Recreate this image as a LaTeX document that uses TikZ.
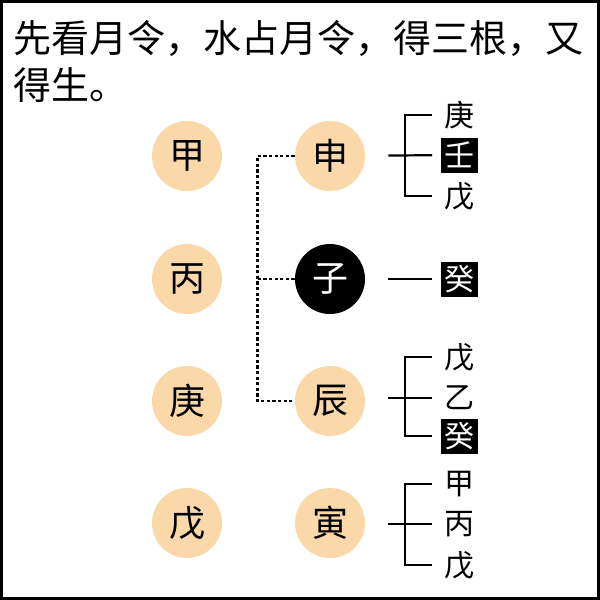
\documentclass[tikz,border=0pt]{standalone}
\usepackage{fontspec}
\setmainfont{Noto Sans CJK SC}
\usepackage{tikz}
\definecolor{peach}{RGB}{250,216,170}

\begin{document}
\begin{tikzpicture}[x=0.5pt,y=-0.5pt,
  main_node/.style={circle,fill=peach,minimum size=35pt,inner sep=0pt,font=\fontsize{18pt}{18pt}\selectfont},
  stem_node/.style={minimum width=18.5pt,minimum height=17.5pt,inner sep=0pt,font=\fontsize{15pt}{15pt}\selectfont},
  hidden_node/.style={stem_node,fill=black,text=white},
  dash_line/.style={line width=1.2pt,dash pattern=on 1.6pt off 1.2pt},
  fork_line/.style={line width=1.1pt,shorten <=4pt,shorten >=4pt}]

    \useasboundingbox (0,0) rectangle (600,600);
    \draw[line width=1.5pt] (1.5,1.5) rectangle (598.5,598.5);

    \node[anchor=north west,align=left,inner sep=0pt,font=\fontsize{19pt}{23.5pt}\selectfont] (0) at (13,20) {先看月令，水占月令，得三根，又\\得生。};

	\node[main_node] (1) at (187,156) {甲};
    \node[main_node] (2) at (187,279) {丙};
    \node[main_node] (3) at (187,401) {庚};
    \node[main_node] (4) at (187,523) {戊};

    \node[main_node] (5) at (330,156) {申};
    \node[main_node, fill=black, text=white] (6) at (330,279) {子};
    \node[main_node] (7) at (330,401) {辰};
    \node[main_node] (8) at (330,523) {寅};

    \node[stem_node] (9) at (459,115) {庚};
    \node[hidden_node] (10) at (459,155) {壬};
    \node[stem_node] (11) at (459,196) {戊};

    \node[hidden_node] (12) at (459,279) {癸};

    \node[stem_node] (13) at (459,357) {戊};
    \node[stem_node] (14) at (459,398) {乙};
    \node[hidden_node] (15) at (459,436) {癸};

    \node[stem_node] (16) at (459,484) {甲};
    \node[stem_node] (17) at (459,524) {丙};
    \node[stem_node] (18) at (459,565) {戊};

    \coordinate (a) at (405,155);
    \coordinate (b) at (405,398);
    \coordinate (c) at (405,524);

    % month branch and the other branches
    \draw[dash_line] (5.west) -- ++(-37,0) |- (7.west);
    \draw[dash_line] (6.west) -- ++(-37,0);

    % hidden stems
    \draw[fork_line, shorten <=11.5pt] (5) -- (10);
    \draw[fork_line] (9.west) -| (a) |- (11.west);
    \draw[fork_line, shorten <=11.5pt] (6) -- (12);
    \draw[fork_line, shorten <=11.5pt] (7.east |- 14) -- (14);
    \draw[fork_line] (13.west) -| (b) |- (15.west);
    \draw[fork_line, shorten <=11.5pt] (8.east |- 17) -- (17);
    \draw[fork_line] (16.west) -| (c) |- (18.west);
\end{tikzpicture}
\end{document}
